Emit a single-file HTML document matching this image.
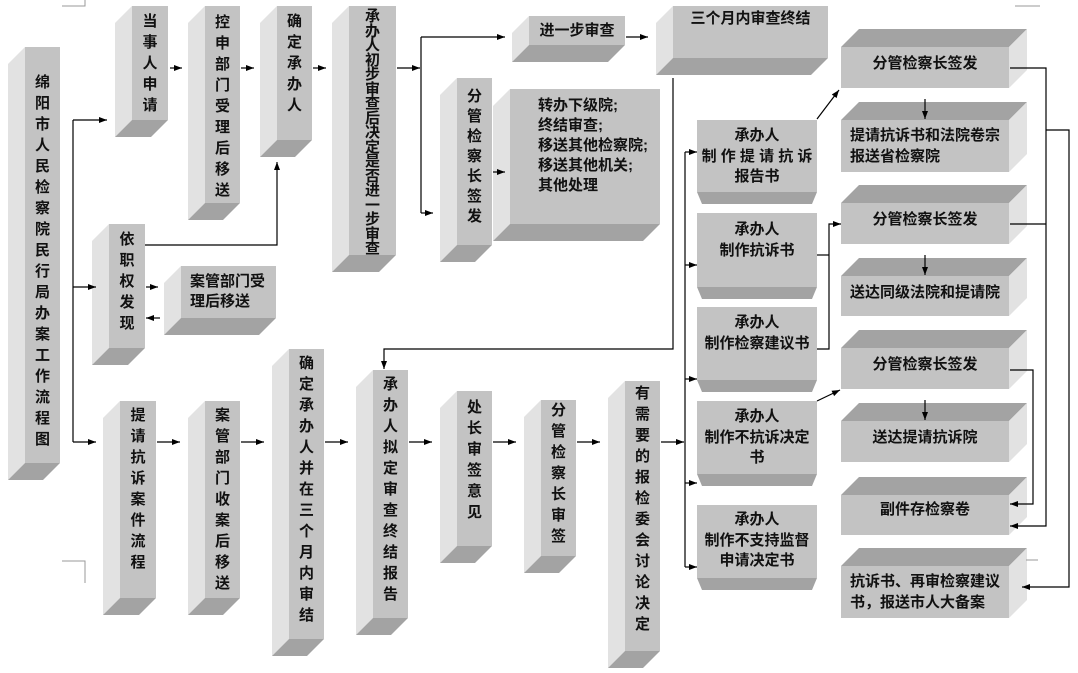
<!DOCTYPE html>
<html><head><meta charset="utf-8"><style>
body{margin:0;width:1078px;height:673px;background:#fff;position:relative;overflow:hidden;font-family:"Liberation Sans","Noto Sans CJK SC",sans-serif;font-weight:bold;font-size:15px;color:#111}
.b{position:absolute;background:#c3c3c3;box-sizing:border-box;text-align:center}
.v::before{content:"";position:absolute;left:-17px;top:0;width:17px;height:calc(100% + 17px);background:#e2e2e2;clip-path:polygon(100% 0,0 17px,0 100%,100% calc(100% - 17px))}
.v::after{content:"";position:absolute;left:-17px;top:100%;width:calc(100% + 17px);height:17px;background:#a3a3a3;clip-path:polygon(17px 0,100% 0,calc(100% - 17px) 100%,0 100%)}
.h::before{content:"";position:absolute;left:0;top:-18px;width:calc(100% + 18px);height:18px;background:#a3a3a3;clip-path:polygon(0 100%,18px 0,100% 0,calc(100% - 18px) 100%)}
.h::after{content:"";position:absolute;left:100%;top:-18px;width:18px;height:calc(100% + 18px);background:#e2e2e2;clip-path:polygon(0 18px,100% 0,100% calc(100% - 18px),0 100%)}
.r::after{content:"";position:absolute;left:0;top:100%;width:100%;height:12px;background:#a3a3a3;clip-path:polygon(0 0,100% 0,calc(100% - 5px) 100%,5px 100%)}
.vt{line-height:21px}
.vt span{display:block;width:16px;margin:0 auto;word-break:break-all}
svg{position:absolute;left:0;top:0}
</style></head><body>

<div class="b v vt" style="left:25px;top:47px;width:35px;height:416px;padding-top:25px"><span>绵阳市人民检察院民行局办案工作流程图</span></div>
<div class="b v vt" style="left:132px;top:6px;width:36px;height:114px;padding-top:5px"><span>当事人申请</span></div>
<div class="b v vt" style="left:205px;top:6px;width:35px;height:197px;padding-top:6px"><span>控申部门受理后移送</span></div>
<div class="b v vt" style="left:277px;top:6px;width:35px;height:134px;padding-top:5px"><span>确定承办人</span></div>
<div class="b v vt" style="left:349px;top:6px;width:47px;height:249px;padding-top:4px;line-height:14.5px"><span>承办人初步审查后决定是否进一步审查</span></div>
<div class="b v" style="left:529px;top:16px;width:96px;height:29px;line-height:29px">进一步审查</div>
<div class="b v" style="left:673px;top:6px;width:155px;height:52px;line-height:26px">三个月内审查终结</div>
<div class="b v vt" style="left:457px;top:78px;width:35px;height:167px;padding-top:9px;line-height:20px"><span>分管检察长签发</span></div>
<div class="b v" style="left:510px;top:89px;width:150px;height:135px;text-align:left;padding:7px 0 0 28px;line-height:20px">转办下级院;<br>终结审查;<br>移送其他检察院;<br>移送其他机关;<br>其他处理</div>
<div class="b v vt" style="left:109px;top:224px;width:36px;height:124px;padding-top:5px"><span>依职权发现</span></div>
<div class="b v" style="left:181px;top:266px;width:95px;height:52px;text-align:left;padding:6px 0 0 9px;line-height:20px">案管部门受理后移送</div>
<div class="b v vt" style="left:120px;top:401px;width:36px;height:197px;padding-top:4px"><span>提请抗诉案件流程</span></div>
<div class="b v vt" style="left:205px;top:401px;width:35px;height:197px;padding-top:4px"><span>案管部门收案后移送</span></div>
<div class="b v vt" style="left:289px;top:349px;width:35px;height:290px;padding-top:4px"><span>确定承办人并在三个月内审结</span></div>
<div class="b v vt" style="left:373px;top:370px;width:35px;height:248px;padding-top:4px"><span>承办人拟定审查终结报告</span></div>
<div class="b v vt" style="left:457px;top:391px;width:35px;height:155px;padding-top:6px"><span>处长审签意见</span></div>
<div class="b v vt" style="left:541px;top:400px;width:35px;height:156px;padding-top:0px"><span>分管检察长审签</span></div>
<div class="b v vt" style="left:625px;top:381px;width:35px;height:270px;padding-top:2px"><span>有需要的报检委会讨论决定</span></div>

<div class="b r" style="left:697px;top:120px;width:120px;height:72px;padding-top:6px;line-height:20.5px">承办人<br>制 作 提 请 抗 诉<br>报告书</div>
<div class="b r" style="left:697px;top:213px;width:120px;height:74px;padding-top:7px;line-height:20.5px">承办人<br>制作抗诉书</div>
<div class="b r" style="left:697px;top:307px;width:120px;height:73px;padding-top:6px;line-height:20.5px">承办人<br>制作检察建议书</div>
<div class="b r" style="left:697px;top:401px;width:120px;height:73px;padding-top:6px;line-height:20.5px">承办人<br>制作不抗诉决定<br>书</div>
<div class="b r" style="left:697px;top:505px;width:120px;height:73px;padding-top:5px;line-height:20.5px">承办人<br>制作不支持监督<br>申请决定书</div>

<div class="b h" style="left:841px;top:47px;width:168px;height:41px;line-height:34px">分管检察长签发</div>
<div class="b h" style="left:841px;top:120px;width:168px;height:52px;text-align:left;padding:5px 0 0 9px;line-height:21px">提请抗诉书和法院卷宗<br>报送省检察院</div>
<div class="b h" style="left:841px;top:203px;width:168px;height:41px;line-height:34px">分管检察长签发</div>
<div class="b h" style="left:841px;top:276px;width:168px;height:40px;line-height:34px">送达同级法院和提请院</div>
<div class="b h" style="left:841px;top:348px;width:168px;height:41px;line-height:34px">分管检察长签发</div>
<div class="b h" style="left:841px;top:421px;width:168px;height:41px;line-height:34px">送达提请抗诉院</div>
<div class="b h" style="left:841px;top:495px;width:168px;height:40px;line-height:30px">副件存检察卷</div>
<div class="b h" style="left:841px;top:566px;width:168px;height:52px;text-align:left;padding:5px 0 0 9px;line-height:21px">抗诉书、再审检察建议<br>书，报送市人大备案</div>

<svg width="1078" height="673" viewBox="0 0 1078 673">
<defs><marker id="a" markerWidth="9" markerHeight="8" refX="8" refY="4" orient="auto" markerUnits="userSpaceOnUse"><path d="M0,1 L8,4 L0,7z" fill="#000"/></marker></defs>
<g fill="none" stroke="#999" stroke-width="1">
<path d="M62 6H85V0M62 561H85V583M1015 6H1040M1026 560H1038"/>
</g>
<g fill="none" stroke="#000" stroke-width="1.2">
<path d="M73 120V442"/>
<path d="M73 120H107" marker-end="url(#a)"/>
<path d="M73 287H96" marker-end="url(#a)"/>
<path d="M73 442H96" marker-end="url(#a)"/>
<path d="M170 68H182" marker-end="url(#a)"/>
<path d="M241 68H254" marker-end="url(#a)"/>
<path d="M313 68H326" marker-end="url(#a)"/>
<path d="M397 68H420" marker-end="url(#a)"/>
<path d="M421 37V213"/>
<path d="M421 37H505" marker-end="url(#a)"/>
<path d="M421 213H433" marker-end="url(#a)"/>
<path d="M626 37H648" marker-end="url(#a)"/>
<path d="M145 245H277V162" marker-end="url(#a)"/>
<path d="M146 287H158" marker-end="url(#a)"/>
<path d="M160 318H146" marker-end="url(#a)"/>
<path d="M493 172H505" marker-end="url(#a)"/>
<path d="M157 442H180" marker-end="url(#a)"/>
<path d="M241 442H264" marker-end="url(#a)"/>
<path d="M325 442H348" marker-end="url(#a)"/>
<path d="M409 442H432" marker-end="url(#a)"/>
<path d="M493 442H516" marker-end="url(#a)"/>
<path d="M577 442H600" marker-end="url(#a)"/>
<path d="M661 442H684" marker-end="url(#a)"/>
<path d="M673 78V349H384V369" marker-end="url(#a)"/>
<path d="M685 152V567"/>
<path d="M685 152H697" marker-end="url(#a)"/>
<path d="M685 265H697" marker-end="url(#a)"/>
<path d="M685 379H697" marker-end="url(#a)"/>
<path d="M685 483H697" marker-end="url(#a)"/>
<path d="M685 567H697" marker-end="url(#a)"/>
<path d="M817 119L839 90" marker-end="url(#a)"/>
<path d="M817 255H829"/>
<path d="M817 349H829V224H841" marker-end="url(#a)"/>
<path d="M817 401L840 390" marker-end="url(#a)"/>
<path d="M925 99V119" marker-end="url(#a)"/>
<path d="M925 255V275" marker-end="url(#a)"/>
<path d="M925 400V420" marker-end="url(#a)"/>
<path d="M1010 68H1046V526H1010" marker-end="url(#a)"/>
<path d="M1010 224H1046"/>
<path d="M1046 130H1069V587H1022" marker-end="url(#a)"/>
<path d="M1010 370H1033V504H1010" marker-end="url(#a)"/>
</g>
</svg>
</body></html>
